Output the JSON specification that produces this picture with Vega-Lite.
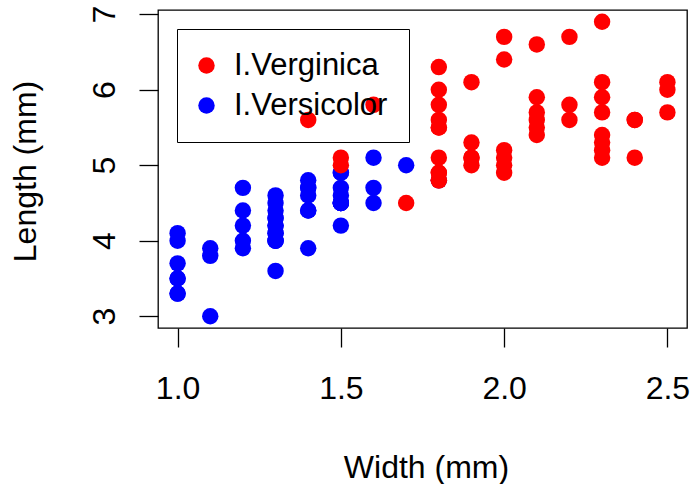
{
  "$schema": "https://vega.github.io/schema/vega-lite/v6.json",
  "autosize": "none",
  "width": 529,
  "height": 318,
  "padding": {"left": 158, "top": 10, "right": 4, "bottom": 156},
  "background": "white",
  "config": {
    "view": {"stroke": "black", "strokeWidth": 1.3},
    "font": "Liberation Sans"
  },
  "data": {
    "values": [
      {"species":"I.Versicolor","width":1.4,"length":4.7},
      {"species":"I.Versicolor","width":1.5,"length":4.5},
      {"species":"I.Versicolor","width":1.5,"length":4.9},
      {"species":"I.Versicolor","width":1.3,"length":4.0},
      {"species":"I.Versicolor","width":1.5,"length":4.6},
      {"species":"I.Versicolor","width":1.3,"length":4.5},
      {"species":"I.Versicolor","width":1.6,"length":4.7},
      {"species":"I.Versicolor","width":1.0,"length":3.3},
      {"species":"I.Versicolor","width":1.3,"length":4.6},
      {"species":"I.Versicolor","width":1.4,"length":3.9},
      {"species":"I.Versicolor","width":1.0,"length":3.5},
      {"species":"I.Versicolor","width":1.5,"length":4.2},
      {"species":"I.Versicolor","width":1.0,"length":4.0},
      {"species":"I.Versicolor","width":1.4,"length":4.7},
      {"species":"I.Versicolor","width":1.3,"length":3.6},
      {"species":"I.Versicolor","width":1.4,"length":4.4},
      {"species":"I.Versicolor","width":1.5,"length":4.5},
      {"species":"I.Versicolor","width":1.0,"length":4.1},
      {"species":"I.Versicolor","width":1.5,"length":4.5},
      {"species":"I.Versicolor","width":1.1,"length":3.9},
      {"species":"I.Versicolor","width":1.8,"length":4.8},
      {"species":"I.Versicolor","width":1.3,"length":4.0},
      {"species":"I.Versicolor","width":1.5,"length":4.9},
      {"species":"I.Versicolor","width":1.2,"length":4.7},
      {"species":"I.Versicolor","width":1.3,"length":4.3},
      {"species":"I.Versicolor","width":1.4,"length":4.4},
      {"species":"I.Versicolor","width":1.4,"length":4.8},
      {"species":"I.Versicolor","width":1.7,"length":5.0},
      {"species":"I.Versicolor","width":1.5,"length":4.5},
      {"species":"I.Versicolor","width":1.0,"length":3.5},
      {"species":"I.Versicolor","width":1.1,"length":3.8},
      {"species":"I.Versicolor","width":1.0,"length":3.7},
      {"species":"I.Versicolor","width":1.2,"length":3.9},
      {"species":"I.Versicolor","width":1.6,"length":5.1},
      {"species":"I.Versicolor","width":1.5,"length":4.5},
      {"species":"I.Versicolor","width":1.6,"length":4.5},
      {"species":"I.Versicolor","width":1.5,"length":4.7},
      {"species":"I.Versicolor","width":1.3,"length":4.4},
      {"species":"I.Versicolor","width":1.3,"length":4.1},
      {"species":"I.Versicolor","width":1.3,"length":4.0},
      {"species":"I.Versicolor","width":1.2,"length":4.4},
      {"species":"I.Versicolor","width":1.4,"length":4.6},
      {"species":"I.Versicolor","width":1.2,"length":4.0},
      {"species":"I.Versicolor","width":1.0,"length":3.3},
      {"species":"I.Versicolor","width":1.3,"length":4.2},
      {"species":"I.Versicolor","width":1.2,"length":4.2},
      {"species":"I.Versicolor","width":1.3,"length":4.2},
      {"species":"I.Versicolor","width":1.3,"length":4.3},
      {"species":"I.Versicolor","width":1.1,"length":3.0},
      {"species":"I.Versicolor","width":1.3,"length":4.1},
      {"species":"I.Verginica","width":2.5,"length":6.0},
      {"species":"I.Verginica","width":1.9,"length":5.1},
      {"species":"I.Verginica","width":2.1,"length":5.9},
      {"species":"I.Verginica","width":1.8,"length":5.6},
      {"species":"I.Verginica","width":2.2,"length":5.8},
      {"species":"I.Verginica","width":2.1,"length":6.6},
      {"species":"I.Verginica","width":1.7,"length":4.5},
      {"species":"I.Verginica","width":1.8,"length":6.3},
      {"species":"I.Verginica","width":1.8,"length":5.8},
      {"species":"I.Verginica","width":2.5,"length":6.1},
      {"species":"I.Verginica","width":2.0,"length":5.1},
      {"species":"I.Verginica","width":1.9,"length":5.3},
      {"species":"I.Verginica","width":2.1,"length":5.5},
      {"species":"I.Verginica","width":2.0,"length":5.0},
      {"species":"I.Verginica","width":2.4,"length":5.1},
      {"species":"I.Verginica","width":2.3,"length":5.3},
      {"species":"I.Verginica","width":1.8,"length":5.5},
      {"species":"I.Verginica","width":2.2,"length":6.7},
      {"species":"I.Verginica","width":2.3,"length":6.9},
      {"species":"I.Verginica","width":1.5,"length":5.0},
      {"species":"I.Verginica","width":2.3,"length":5.7},
      {"species":"I.Verginica","width":2.0,"length":4.9},
      {"species":"I.Verginica","width":2.0,"length":6.7},
      {"species":"I.Verginica","width":1.8,"length":4.9},
      {"species":"I.Verginica","width":2.1,"length":5.7},
      {"species":"I.Verginica","width":1.8,"length":6.0},
      {"species":"I.Verginica","width":1.8,"length":4.8},
      {"species":"I.Verginica","width":1.8,"length":4.9},
      {"species":"I.Verginica","width":2.1,"length":5.6},
      {"species":"I.Verginica","width":1.6,"length":5.8},
      {"species":"I.Verginica","width":1.9,"length":6.1},
      {"species":"I.Verginica","width":2.0,"length":6.4},
      {"species":"I.Verginica","width":2.2,"length":5.6},
      {"species":"I.Verginica","width":1.5,"length":5.1},
      {"species":"I.Verginica","width":1.4,"length":5.6},
      {"species":"I.Verginica","width":2.3,"length":6.1},
      {"species":"I.Verginica","width":2.4,"length":5.6},
      {"species":"I.Verginica","width":1.8,"length":5.5},
      {"species":"I.Verginica","width":1.8,"length":4.8},
      {"species":"I.Verginica","width":2.1,"length":5.4},
      {"species":"I.Verginica","width":2.4,"length":5.6},
      {"species":"I.Verginica","width":2.3,"length":5.1},
      {"species":"I.Verginica","width":1.9,"length":5.1},
      {"species":"I.Verginica","width":2.3,"length":5.9},
      {"species":"I.Verginica","width":2.5,"length":5.7},
      {"species":"I.Verginica","width":2.3,"length":5.2},
      {"species":"I.Verginica","width":1.9,"length":5.0},
      {"species":"I.Verginica","width":2.0,"length":5.2},
      {"species":"I.Verginica","width":2.3,"length":5.4},
      {"species":"I.Verginica","width":1.8,"length":5.1}
    ]
  },
  "mark": {"type": "point", "shape": "circle", "filled": true, "opacity": 1, "size": 270, "strokeWidth": 0},
  "encoding": {
    "x": {
      "field": "width", "type": "quantitative",
      "scale": {"domain": [0.94, 2.56], "nice": false, "zero": false},
      "axis": {
        "title": "Width (mm)",
        "values": [1.0, 1.5, 2.0, 2.5],
        "format": ".1f",
        "grid": false,
        "domain": false,
        "tickColor": "black", "tickWidth": 1.3, "tickSize": 19,
        "labelColor": "black", "labelFontSize": 32, "labelFont": "Liberation Sans",
        "labelBaseline": "alphabetic", "labelPadding": 51, "labelAlign": "center",
        "labelFlush": false, "labelOverlap": false,
        "titleColor": "black", "titleFontSize": 32, "titleFont": "Liberation Sans", "titleFontWeight": "normal",
        "titleBaseline": "alphabetic", "titleX": 268, "titleY": 149, "titleAlign": "center"
      }
    },
    "y": {
      "field": "length", "type": "quantitative",
      "scale": {"domain": [2.844, 7.056], "nice": false, "zero": false},
      "axis": {
        "title": "Length (mm)",
        "values": [3, 4, 5, 6, 7],
        "format": "d",
        "grid": false,
        "domain": false,
        "tickColor": "black", "tickWidth": 1.3, "tickSize": 19,
        "labelColor": "black", "labelFontSize": 32, "labelFont": "Liberation Sans",
        "labelAngle": -90, "labelAlign": "center", "labelBaseline": "alphabetic", "labelPadding": 25,
        "labelFlush": false, "labelOverlap": false,
        "titleColor": "black", "titleFontSize": 32, "titleFont": "Liberation Sans", "titleFontWeight": "normal",
        "titleAngle": -90, "titleBaseline": "alphabetic", "titleX": -123, "titleY": 161, "titleAlign": "center"
      }
    },
    "color": {
      "field": "species", "type": "nominal",
      "scale": {"domain": ["I.Verginica", "I.Versicolor"], "range": ["#FF0000", "#0000FF"]},
      "legend": {
        "title": null,
        "orient": "none",
        "legendX": 19,
        "legendY": 19,
        "strokeColor": "black",
        "fillColor": null,
        "padding": 21,
        "symbolType": "circle",
        "symbolSize": 270,
        "symbolStrokeWidth": 0,
        "symbolOpacity": 1,
        "symbolOffset": -7,
        "labelFontSize": 31,
        "labelFont": "Liberation Sans",
        "labelColor": "black",
        "labelOffset": 12,
        "rowPadding": 8,
        "labelLimit": 400
      }
    }
  }
}
